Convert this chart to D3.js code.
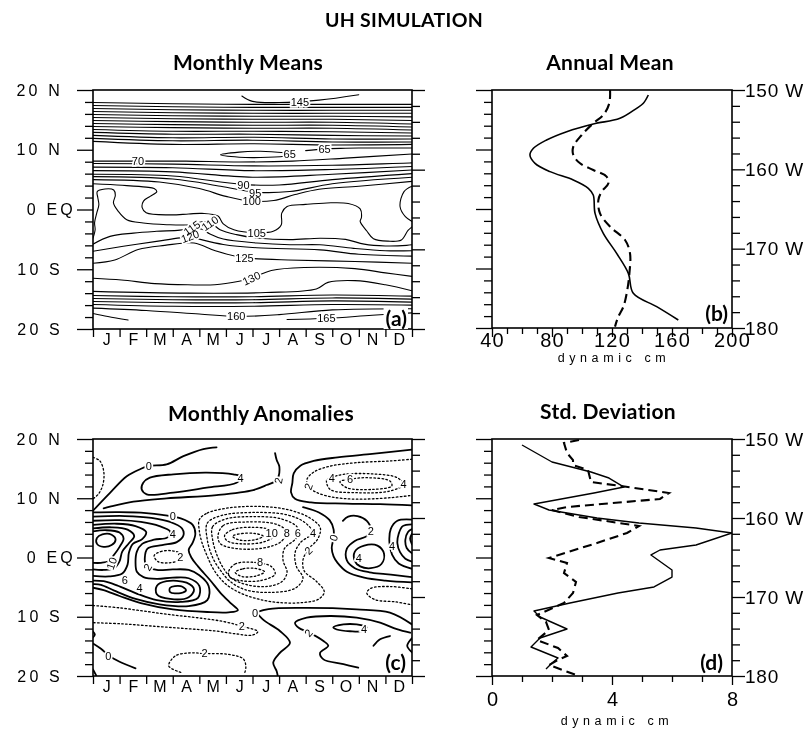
<!DOCTYPE html>
<html>
<head>
<meta charset="utf-8">
<script src="https://cdn.jsdelivr.net/npm/d3@7"></script>
<style>
  body { margin: 0; background: #fff; }
  svg { display: block; filter: grayscale(1); }
  text { font-family: "Liberation Sans", Arial, sans-serif; }
  .ttl { font-family: Lato, "Open Sans", sans-serif; font-weight: 700; }
</style>
</head>
<body>
<div id="chart"></div>
<script>
//////////////////////////////////////////////////
/////////////////// Constants ////////////////////
//////////////////////////////////////////////////

const width = 807
const height = 730

// axis values
const monthNames = ["J","F","M","A","M","J","J","A","S","O","N","D"]
const latMajor = [20, 10, 0, -10, -20]
const latNames = {"20": "20 N", "10": "10 N", "0": "0 EQ", "-10": "10 S", "-20": "20 S"}
const lonMajor = [150, 160, 170, 180]
const lonNames = {"150": "150 W", "160": "160 W", "170": "170 W", "180": "180"}
const annualTicks = [40, 80, 120, 160, 200]
const stdTicks = [0, 4, 8]

// (a) monthly means, contour lines as [month, latitude]
const meanLines = [
  [[5.6,19.0],[6.0,18.1],[7.0,17.9],[8.5,18.3],[10.0,19.2]],
  [[0,17.9],[3,17.7],[6,17.6],[9,17.6],[12,17.6]],
  [[0,17.4],[3,17.2],[6,17.1],[9,17.1],[12,17.1]],
  [[0,16.9],[3,16.7],[6,16.6],[9,16.6],[12,16.6]],
  [[0,16.4],[3,16.2],[6,16.1],[9,16.1],[12,16.1]],
  [[0,15.9],[3,15.7],[6,15.6],[9,15.6],[12,15.5]],
  [[0,15.4],[3,15.2],[6,15.1],[9,15.1],[12,14.9]],
  [[0,14.9],[3,14.7],[6,14.6],[9,14.6],[12,14.3]],
  [[0,14.4],[3,14.2],[6,14.1],[9,14.1],[12,13.8]],
  [[0,13.9],[3,13.7],[6,13.6],[9,13.6],[12,13.3]],
  [[0,13.4],[3,13.1],[6,13.1],[9,13.0],[12,12.8]],
  [[0,12.9],[3,12.6],[6,12.6],[9,12.4],[12,12.3]],
  [[0,12.4],[3,12.0],[6,12.1],[9,11.8],[12,11.8]],
  [[0,11.9],[3,11.5],[6,11.6],[9,11.3],[12,11.3]],
  [[0,11.4],[3,10.9],[6,11.0],[9,10.8],[12,10.9]],
  [[4.8,9.15],[5.5,9.6],[6.3,9.75],[7.2,9.5],[7.6,9.25],[7.2,8.9],[6.3,8.7],[5.5,8.75],[4.8,9.15]],
  [[8.0,9.85],[8.7,10.15],[9.5,10.25],[10.5,10.3],[11.3,10.3],[12,10.3]],
  [[0,8.1],[1.7,8.1],[3.5,8.1],[5.5,7.95],[7.5,8.1],[9.5,8.6],[12,9.3]],
  [[0,7.7],[3,7.6],[6,7.3],[9,7.4],[12,7.8]],
  [[0,7.1],[3,7.0],[6,6.5],[9,6.7],[12,7.2]],
  [[0,6.5],[3,6.3],[6,5.4],[9,5.9],[12,6.6]],
  [[0,5.9],[3,5.6],[5.6,4.2],[7,4.1],[9,5.0],[12,6.0]],
  [[0,5.5],[3,5.1],[4.8,3.9],[6.1,2.9],[7.4,3.0],[9,4.3],[12,5.4]],
  [[0,5.0],[2.5,4.6],[4,3.5],[5,2.2],[5.9,1.4],[6.8,1.5],[7.6,2.5],[8.5,3.4],[10,3.9],[12,4.7]],
  [[0,4.3],[1.1,4.05],[2.0,3.75],[2.3,3.5],[2.4,3.0],[2.15,2.2],[1.9,1.4],[1.85,0.3],[2.0,-0.55],[2.9,-0.9],[3.6,-0.75],[4.1,-0.65],[4.7,-1.1],[4.9,-2.4],[5.3,-3.4],[6.16,-3.9],[6.78,-3.65],[7.08,-2.6],[7.1,-0.6],[7.3,0.5],[8.0,0.85],[8.8,1.1],[9.6,1.0],[10.05,0.1],[10.1,-1.3],[10.05,-2.0],[10.3,-3.6],[10.55,-4.9],[11.1,-5.3],[11.6,-5.1],[11.85,-3.5],[12,-2.9]],
  [[12,3.9],[11.7,3.0],[11.55,0.5],[11.75,-1.2],[12,-2.0]],
  [[0,-4.8],[0.08,-3.4],[0.06,-2.2],[0.14,-0.6],[0.22,0.8],[0.18,2.0],[0.16,3.0],[0.45,3.43],[0.78,3.26],[0.84,2.4],[0.77,1.1],[0.95,-0.3],[1.27,-1.7],[1.89,-2.26],[2.77,-2.54],[3.65,-2.54],[4.15,-2.0],[4.45,-2.3],[4.78,-3.38],[5.4,-4.21],[6.16,-4.77],[7.41,-5.05],[8.54,-4.8],[9.5,-5.0],[10.2,-5.8],[11.0,-6.1],[11.8,-6.0],[12,-5.9]],
  [[0,-5.8],[0.64,-4.5],[1.52,-3.95],[2.39,-3.65],[3.27,-3.45],[3.75,-3.1],[4.1,-3.3],[4.4,-4.1],[4.9,-4.95],[6.16,-5.6],[7.41,-5.9],[8.54,-5.9],[9.8,-6.5],[11,-6.9],[12,-6.9]],
  [[0,-7.0],[1.14,-6.16],[2.39,-5.33],[3.27,-4.75],[3.65,-4.55],[4.03,-5.0],[4.9,-5.85],[6.16,-6.4],[8.54,-6.75],[10,-7.5],[12,-7.8]],
  [[0,-9.0],[0.82,-8.45],[1.7,-6.7],[2.7,-6.0],[3.8,-5.6],[4.6,-6.9],[5.45,-7.9],[6.0,-8.2],[7.34,-8.45],[9.85,-8.7],[12,-9.0]],
  [[0,-11.5],[1.07,-11.8],[2.32,-12.4],[3.57,-12.6],[4.58,-12.6],[5.5,-12.0],[5.96,-11.5],[6.71,-10.2],[7.96,-9.7],[9.85,-9.9],[11,-10.6],[12,-11.2]],
  [[0,-13.7],[3.57,-14.0],[6.5,-13.9],[8.4,-13.3],[8.84,-12.2],[9.85,-11.9],[11,-12.6],[12,-13.6]],
  [[0,-14.4],[3,-14.6],[6,-14.6],[9,-14.3],[12,-14.5]],
  [[0,-14.9],[3,-15.1],[6,-15.1],[9,-14.8],[12,-15.0]],
  [[0,-15.4],[3,-15.6],[6,-15.6],[9,-15.3],[12,-15.5]],
  [[0,-15.9],[3,-16.2],[6,-16.2],[9,-15.9],[12,-16.0]],
  [[0,-16.5],[2,-16.9],[4,-17.5],[5.4,-17.9],[7,-17.6],[9,-16.8],[12,-16.6]],
  [[7.3,-18.4],[8.8,-18.2],[10.5,-17.7],[12,-17.3]],
  [[0,-17.4],[0.56,-17.9],[1.32,-18.5]]
]
const meanLabels = [
  ["145", 7.78, 18.05, 0], ["65", 7.4, 9.29, 0], ["65", 8.71, 10.18, 0], ["70", 1.69, 8.1, 0],
  ["90", 5.66, 4.16, 0], ["95", 6.1, 2.8, 0], ["100", 5.97, 1.4, 0], ["105", 6.16, -3.93, 0],
  ["110", 4.4, -2.3, -35], ["115", 3.72, -3.1, -35], ["120", 3.65, -4.5, -20],
  ["125", 5.7, -8.17, 0], ["130", 5.96, -11.5, -25], ["160", 5.39, -17.9, 0], ["165", 8.78, -18.2, 0]
]

// (c) monthly anomalies, positive and zero contours (solid)
const anomSolid = [
  [[0,7.9],[0.64,10.9],[1.27,13.7],[1.77,14.9],[2.1,15.45],[2.77,15.7],[3.4,17.1],[4.15,18.3],[4.65,18.6]],
  [[1.89,12.63],[2.14,13.47],[3.02,14.04],[4.28,14.32],[5.28,14.04],[5.59,13.6],[5.4,12.63],[4.28,11.8],[3.02,10.94],[2.02,10.66],[1.83,11.5],[1.89,12.63]],
  [[0.4,8.3],[0.64,8.58],[1.52,9.42],[2.77,9.98],[4.65,10.54],[6.03,11.39],[6.53,12.23],[6.91,13.08],[7.01,15.33],[6.91,16.45],[6.85,17.6]],
  [[12,18.2],[10.5,17.5],[9.2,16.9],[8.3,16.3],[7.8,15.5],[7.55,14.2],[7.5,12.6],[7.45,11.0],[7.6,9.9],[8.2,9.3],[9.5,9.1],[10.8,9.0],[12,8.8]],
  [[0,7.6],[1.0,7.65],[2.0,7.5],[2.6,7.2],[3.3,6.6],[3.75,5.5],[3.85,4.0],[3.75,2.5],[3.6,1.3],[3.7,0.0],[3.95,-1.5],[4.4,-3.8],[4.8,-6.0],[5.2,-7.8],[5.45,-8.9],[5.1,-9.25],[4.3,-9.2],[3.0,-8.75],[1.8,-7.7],[1.0,-6.5],[0.4,-5.5],[0,-5.1]],
  [[0,6.9],[1.2,7.0],[2.2,6.7],[2.9,6.0],[3.35,4.9],[3.4,3.7],[3.15,2.6],[2.6,2.1],[2.05,1.5],[1.95,0.0],[2.0,-1.4],[2.4,-2.1],[3.0,-2.0],[3.6,-2.1],[4.0,-3.0],[4.35,-4.8],[4.3,-7.2],[3.6,-8.2],[2.5,-7.9],[1.6,-7.0],[0.8,-5.6],[0.3,-4.6],[0,-4.5]],
  [[0,6.2],[1.0,6.3],[1.8,6.0],[2.5,5.3],[2.9,4.4],[2.8,3.4],[2.3,3.0],[1.85,2.3],[1.65,1.0],[1.6,-0.8],[1.65,-2.4],[1.9,-3.3],[2.4,-3.6],[3.0,-3.4],[3.6,-3.5],[4.0,-4.8],[3.95,-6.8],[3.3,-7.5],[2.4,-7.2],[1.6,-6.0],[0.9,-4.7],[0.4,-4.0],[0,-3.9]],
  [[0,5.5],[0.9,5.7],[1.6,5.3],[2.0,4.3],[1.85,3.1],[1.5,2.3],[1.35,0.8],[1.3,-1.2],[1.1,-2.7],[0.6,-3.2],[0,-3.1]],
  [[0,4.9],[0.7,5.1],[1.3,4.7],[1.55,3.6],[1.35,2.4],[1.1,1.0],[1.0,-0.6],[0.8,-1.8],[0.4,-2.1],[0,-2.0]],
  [[0,4.4],[0.5,4.6],[1.0,4.2],[1.15,3.2],[1.0,1.8],[0.8,0.5],[0.6,-0.6],[0.3,-0.9],[0,-0.9]],
  [[0.15,3.3],[0.35,3.9],[0.7,3.85],[0.85,3.0],[0.7,2.1],[0.4,1.8],[0.15,2.3],[0.15,3.3]],
  [[2.4,-4.8],[2.77,-4.0],[3.52,-4.25],[3.8,-5.4],[3.6,-6.7],[2.9,-7.0],[2.4,-6.2],[2.4,-4.8]],
  [[2.9,-5.1],[3.3,-4.85],[3.5,-5.5],[3.3,-6.0],[2.9,-5.85],[2.9,-5.1]],
  [[7.9,8.5],[8.5,7.6],[8.9,6.3],[9.05,4.75],[9.05,3.35],[8.98,1.6],[9.05,0.2],[9.2,-0.9],[9.55,-2.4],[10.2,-3.4],[11.0,-3.9],[12,-4.2]],
  [[9.4,6.2],[9.6,6.9],[9.95,7.0],[10.3,6.2],[10.45,4.7],[10.3,3.6],[9.85,2.8],[9.55,1.5],[9.55,-0.5],[9.85,-1.8],[10.4,-2.5],[11.0,-2.8],[11.6,-3.1],[12,-3.3]],
  [[9.85,1.0],[10.2,2.0],[10.7,2.0],[10.95,0.6],[10.85,-1.1],[10.45,-1.8],[10.05,-1.5],[9.85,-0.6],[9.85,1.0]],
  [[12,6.4],[11.45,6.2],[11.2,4.8],[11.15,2.6],[11.25,0.5],[11.5,-1.0],[12,-1.9]],
  [[12,5.6],[11.65,5.3],[11.5,4.0],[11.45,2.4],[11.55,0.9],[11.75,-0.2],[12,-0.7]],
  [[12,4.8],[11.85,4.3],[11.75,3.0],[11.8,1.6],[12,0.7]],
  [[12,4.0],[11.93,3.2],[12,2.2]],
  [[12,-11.3],[11.17,-9.3],[9.92,-8.75],[8.04,-8.5],[6.6,-8.7],[6.2,-9.3],[6.4,-10.5],[7.03,-12.4],[7.41,-14.4],[7.03,-16.1],[6.78,-17.75],[6.91,-19.2],[6.95,-20]],
  [[11.93,-12.7],[11.43,-12.1],[10.8,-11.0],[9.92,-10.15],[8.92,-9.87],[8.04,-10.15],[7.6,-11.0],[7.75,-11.9],[8.1,-12.6],[8.67,-14.1],[8.85,-14.9],[8.54,-16.1],[8.67,-17.2],[9.42,-18.0],[9.98,-18.6]],
  [[9.04,-11.8],[9.42,-11.3],[9.92,-11.3],[10.3,-11.8],[10.17,-12.4],[9.67,-12.45],[9.17,-12.15],[9.04,-11.8]],
  [[10.55,-14.9],[10.8,-13.8],[11.17,-13.25]],
  [[12,-13.6],[11.82,-14.9],[12,-16.0]],
  [[0,-14.5],[0.3,-15.4],[0.6,-16.6],[1.0,-17.6],[1.6,-18.7]],
  [[0,-12.5],[0.07,-13.0],[0,-13.5]],
  [[0,-18.9],[0.12,-19.9]]
]
// (c) negative contours (dotted)
const anomDotted = [
  [[0,16.9],[0.26,16.3],[0.41,14.3],[0.36,12.1],[0.2,10.7],[0,9.9]],
  [[12,16.6],[11.2,16.3],[9.9,16.0],[8.9,15.4],[8.3,14.4],[8.05,13.2],[8.1,12.0],[8.4,11.0],[9.0,10.2],[9.9,9.85],[11.2,10.1],[12,10.5]],
  [[8.79,13.1],[8.98,13.5],[9.42,14.04],[10.55,14.1],[11.43,13.5],[11.68,12.35],[11.17,11.22],[9.92,10.94],[8.92,11.5],[8.79,13.1]],
  [[9.29,12.8],[9.67,13.2],[10.3,13.47],[11.17,12.9],[11.24,12.07],[10.55,11.5],[9.54,11.78],[9.29,12.8]],
  [[4.0,6.4],[4.3,7.5],[5.15,8.4],[6.4,8.6],[7.4,8.0],[8.15,6.7],[8.55,5.0],[8.45,3.1],[8.1,1.4],[7.9,-0.4],[7.95,-2.3],[8.4,-4.0],[8.7,-5.8],[8.5,-7.0],[7.9,-7.6],[7.0,-7.6],[6.2,-7.0],[5.5,-5.9],[4.95,-4.3],[4.55,-2.1],[4.3,0.2],[4.1,2.5],[4.0,4.5],[4.0,6.4]],
  [[4.3,3.0],[4.3,5.8],[4.85,7.1],[6.0,7.6],[7.3,7.2],[8.0,5.8],[8.25,4.2],[7.8,2.5],[7.6,0.8],[7.65,-1.5],[7.9,-3.5],[7.6,-5.2],[6.6,-5.9],[5.7,-5.4],[5.15,-4.0],[4.8,-2.2],[4.5,0.0],[4.3,3.0]],
  [[4.5,3.0],[4.5,5.2],[5.0,6.5],[6.0,6.9],[7.1,6.5],[7.7,5.0],[7.65,3.3],[7.2,1.5],[7.15,-0.5],[7.3,-2.5],[7.1,-4.1],[6.5,-4.9],[5.8,-4.6],[5.25,-3.6],[4.95,-2.1],[4.7,0.0],[4.5,3.0]],
  [[4.7,3.6],[4.9,5.4],[5.8,6.0],[6.9,5.6],[7.3,4.3],[7.05,2.6],[6.4,1.6],[5.4,1.5],[4.8,2.3],[4.7,3.6]],
  [[5.1,-2.4],[5.35,-1.1],[6.0,-0.8],[6.7,-1.5],[6.85,-2.8],[6.3,-3.9],[5.55,-3.9],[5.15,-3.3],[5.1,-2.4]],
  [[4.95,3.7],[5.25,4.7],[6.0,5.1],[6.7,4.6],[6.8,3.6],[6.4,2.6],[5.6,2.3],[5.05,2.8],[4.95,3.7]],
  [[5.25,3.6],[5.6,4.05],[6.1,4.05],[6.4,3.6],[6.1,3.0],[5.5,2.95],[5.25,3.6]],
  [[5.35,-2.5],[5.65,-1.9],[6.1,-1.85],[6.45,-2.4],[6.15,-3.1],[5.6,-3.2],[5.35,-2.5]],
  [[2.3,0.3],[2.55,1.0],[2.95,1.15],[3.3,0.6],[3.25,-0.4],[2.85,-0.9],[2.45,-0.7],[2.3,0.3]],
  [[0,-8.1],[1.0,-8.5],[2.0,-9.1],[3.0,-9.7],[4.0,-10.2],[4.9,-10.8],[5.6,-11.6],[6.2,-12.5],[6.0,-13.1],[5.4,-12.9],[4.6,-12.4],[3.5,-12.0],[2.3,-11.6],[1.1,-11.2],[0,-11.0]],
  [[3.3,-19.4],[2.85,-18.3],[3.1,-16.6],[3.65,-16.1],[4.2,-16.2],[5.1,-16.35],[5.65,-17.1],[5.75,-18.4],[5.7,-19.6]],
  [[12,-5.3],[11.2,-4.9],[10.45,-5.2],[10.3,-6.0],[10.6,-7.1],[11.4,-7.5],[12,-8.0]]
]
const anomLabels = [
  ["0", 2.1, 15.45, 0], ["4", 5.55, 13.5, 0], ["2", 6.97, 13.0, -80], ["2", 8.1, 12.0, -70],
  ["4", 8.98, 13.4, 0], ["6", 9.67, 13.2, 0], ["4", 11.68, 12.4, 0], ["0", 3.0, 7.05, 0],
  ["4", 3.0, 3.9, 0], ["10", 0.7, -1.0, -70], ["6", 1.2, -3.75, 0], ["2", 2.05, -1.6, -60],
  ["4", 1.75, -5.2, 0], ["2", 3.28, 0.1, 0], ["10", 6.72, 4.2, 0], ["8", 7.29, 4.2, 0],
  ["6", 7.7, 4.2, 0], ["4", 8.28, 4.2, 0], ["2", 8.1, 1.2, -45], ["0", 9.05, 3.35, -70],
  ["2", 10.45, 4.5, 0], ["4", 11.25, 1.9, 0], ["4", 10.0, 0.0, 0], ["8", 6.28, -0.7, 0],
  ["0", 6.1, -9.45, 0], ["2", 5.6, -11.6, 0], ["2", 8.1, -12.7, -50], ["4", 10.2, -12.0, 0],
  ["0", 0.58, -16.6, 0], ["2", 4.2, -16.2, 0]
]

// (b) annual mean, [longitude, dynamic cm]
const annualSolid = [
  [150.63,144.2],[151.68,140.9],[152.31,136.4],[153.57,125.3],[154.28,107.5],[155.25,89.8],
  [156.3,76.4],[157.35,67.6],[158.19,65.3],[159.24,68.7],[160.29,78.7],[161.34,94.2],
  [162.39,104.2],[163.24,107.5],[165.55,108.7],[168.07,114.2],[170.59,123.1],[173.11,130.9],
  [175.63,134.2],[177.31,149.8],[178.99,164.2]
]
const annualDashed = [
  [150.0,118.7],[151.68,118.2],[153.15,114.2],[154.2,107.5],[155.67,99.8],[157.14,94.2],
  [158.19,94.2],[159.24,98.7],[160.08,107.5],[160.92,116.4],[161.76,117.6],[162.81,113.1],
  [163.87,110.9],[165.55,112.0],[167.23,118.7],[168.91,128.7],[170.59,132.0],[173.11,131.6],
  [175.63,129.8],[177.31,127.6],[178.57,124.2],[179.83,122.0]
]

// (d) standard deviation, [longitude, dynamic cm]
const stdSolid = [
  [150.76,1.0],[152.91,2.0],[154.18,3.3],[154.94,3.9],[156.08,4.4],[156.84,3.4],[158.23,1.4],
  [158.99,1.9],[160.0,3.5],[160.63,4.9],[161.27,6.8],[161.9,8.0],[163.42,6.8],[164.05,5.6],
  [164.68,5.3],[166.58,6.0],[167.47,6.0],[168.73,5.4],[169.49,4.2],[170.76,2.6],[171.77,1.4],
  [172.53,1.6],[174.05,2.5],[175.19,1.6],[176.33,1.3],[177.72,2.2],[178.35,2.0],[179.11,1.8]
]
const stdDashed = [
  [150.13,2.9],[150.51,2.4],[151.77,2.5],[152.66,2.7],[153.29,2.7],[153.92,3.2],[155.44,3.3],
  [155.95,4.3],[156.84,5.9],[157.59,5.6],[158.61,2.5],[158.99,2.0],[159.87,2.9],[160.38,3.8],
  [161.01,4.9],[161.9,4.5],[163.16,3.5],[165.06,1.9],[165.7,2.5],[166.96,2.4],[168.1,2.8],
  [169.49,2.7],[170.76,2.4],[172.28,1.5],[173.16,1.8],[174.18,1.9],[175.44,1.5],[176.46,2.2],
  [177.47,2.5],[177.97,2.2],[178.61,1.9],[179.87,2.8]
]

// panel boxes
const boxA = {left: 93, right: 412, top: 90, bottom: 329}
const boxB = {left: 492, right: 732, top: 90, bottom: 328}
const boxC = {left: 93, right: 412, top: 439, bottom: 676}
const boxD = {left: 492, right: 732, top: 439, bottom: 676}

/// SVG ///
const svg = d3.select("#chart").append("svg")
  .attr("width", width)
  .attr("height", height)
svg.append("rect").attr("width", width).attr("height", height).attr("fill", "#fff")

const defs = svg.append("defs")

// frame: box, latitude ticks on the left, longitude ticks on the right
function frame(box, id, showLat, showLon) {
  const g = svg.append("g")
  const lat = d3.scaleLinear([-20, 20], [box.bottom, box.top])
  const lon = d3.scaleLinear([150, 180], [box.top, box.bottom])

  defs.append("clipPath").attr("id", id)
    .append("rect")
      .attr("x", box.left).attr("y", box.top)
      .attr("width", box.right - box.left).attr("height", box.bottom - box.top)

  g.append("g").attr("transform", `translate(${box.left},0)`)
    .call(d3.axisLeft(lat).tickValues(d3.range(-18, 19, 2).filter(v => v % 10 !== 0)).tickSize(8).tickFormat(""))
  const leftMajor = g.append("g").attr("transform", `translate(${box.left},0)`)
    .call(d3.axisLeft(lat).tickValues(latMajor).tickSize(16).tickPadding(2)
      .tickFormat(d => showLat ? latNames[d] : ""))
  leftMajor.selectAll("text")
    .attr("x", d => d === 0 ? -17 : -30)
    .attr("font-size", 16).attr("letter-spacing", 3.2)
    .attr("font-family", "Liberation Sans, Arial, sans-serif")

  g.append("g").attr("transform", `translate(${box.right},0)`)
    .call(d3.axisRight(lon).tickValues(d3.range(152, 180, 2).filter(v => v % 10 !== 0)).tickSize(8).tickFormat(""))
  const rightMajor = g.append("g").attr("transform", `translate(${box.right},0)`)
    .call(d3.axisRight(lon).tickValues(lonMajor).tickSize(13).tickPadding(0)
      .tickFormat(d => showLon ? lonNames[d] : ""))
  rightMajor.selectAll("text")
    .attr("font-size", 19).attr("letter-spacing", 0.8)
    .attr("font-family", "Liberation Sans, Arial, sans-serif")

  g.selectAll(".domain").remove()
  g.selectAll(".tick line").attr("stroke", "#000").attr("stroke-width", 1.3)
  g.selectAll(".tick text").attr("fill", "#000")

  g.append("rect")
    .attr("x", box.left).attr("y", box.top)
    .attr("width", box.right - box.left).attr("height", box.bottom - box.top)
    .attr("fill", "none").attr("stroke", "#000").attr("stroke-width", 1.6)
  return g
}

function monthAxis(box) {
  const x = d3.scaleLinear([0, 12], [box.left, box.right])
  const g = svg.append("g").attr("transform", `translate(0,${box.bottom})`)
  g.append("g")
    .call(d3.axisBottom(x).tickValues(d3.range(0, 13)).tickSize(8).tickFormat(""))
  g.append("g")
    .call(d3.axisBottom(x).tickValues(d3.range(12).map(i => i + 0.5)).tickSize(0).tickPadding(4.5)
      .tickFormat(d => monthNames[Math.floor(d)]))
  g.selectAll(".domain").remove()
  g.selectAll(".tick line").attr("stroke", "#000").attr("stroke-width", 1.3)
  g.selectAll(".tick text").attr("fill", "#000").attr("font-size", 16)
    .attr("font-family", "Liberation Sans, Arial, sans-serif")
  return x
}

function isClosed(p) {
  const a = p[0], b = p[p.length - 1]
  return a[0] === b[0] && a[1] === b[1]
}

function drawContours(g, x, y, lines, style) {
  lines.forEach(p => {
    const closed = isClosed(p)
    const line = d3.line(d => x(d[0]), d => y(d[1]))
      .curve(closed ? d3.curveCatmullRomClosed.alpha(0.5) : d3.curveCatmullRom.alpha(0.5))
    g.append("path")
      .attr("d", line(closed ? p.slice(0, -1) : p))
      .attr("fill", "none")
      .attr("stroke", "#000")
      .attr("stroke-width", style.width)
      .attr("stroke-dasharray", style.dash || null)
      .attr("stroke-linejoin", "round")
      .attr("stroke-linecap", "round")
  })
}

// contour labels: a white copy underneath breaks the line, black text on top
function drawLabels(g, x, y, labels) {
  const place = d => `translate(${x(d[1])},${y(d[2])}) rotate(${d[3]})`
  g.selectAll(null)
    .data(labels)
    .join("text")
      .attr("transform", place)
      .attr("text-anchor", "middle")
      .attr("dominant-baseline", "central")
      .attr("font-size", 11)
      .attr("fill", "#fff").attr("stroke", "#fff").attr("stroke-width", 3.5)
      .text(d => d[0])
  g.selectAll(null)
    .data(labels)
    .join("text")
      .attr("transform", place)
      .attr("text-anchor", "middle")
      .attr("dominant-baseline", "central")
      .attr("font-size", 11)
      .attr("fill", "#000")
      .text(d => d[0])
}

function panelLetter(txt, xr, yb) {
  const t = svg.append("text")
    .attr("class", "ttl")
    .attr("x", xr).attr("y", yb)
    .attr("text-anchor", "end")
    .attr("font-size", 21)
    .text(txt)
  const bb = t.node().getBBox()
  svg.insert("rect", () => t.node())
    .attr("x", bb.x - 2).attr("y", bb.y + 2)
    .attr("width", bb.width + 3).attr("height", bb.height - 3)
    .attr("fill", "#fff")
}

function title(txt, cx, yb, size) {
  svg.append("text").attr("class", "ttl")
    .attr("x", cx).attr("y", yb).attr("text-anchor", "middle")
    .attr("font-size", size).attr("letter-spacing", 0.3).text(txt)
}

title("UH SIMULATION", 404, 27, 19.5)

///////////////////////////////////////////////////////////
/////////////////// (a) Monthly Means /////////////////////
///////////////////////////////////////////////////////////
title("Monthly Means", 248, 70, 21)
{
  const latA = d3.scaleLinear([-20, 20], [boxA.bottom, boxA.top])
  const xA = monthAxis(boxA)
  const g = svg.append("g").attr("clip-path", "url(#clipA)")
  frame(boxA, "clipA", true, false)
  drawContours(g, xA, latA, meanLines, {width: 1.1})
  drawLabels(g, xA, latA, meanLabels)
  panelLetter("(a)", 407, 326)
}

///////////////////////////////////////////////////////////
/////////////////// (b) Annual Mean ///////////////////////
///////////////////////////////////////////////////////////
title("Annual Mean", 610, 70, 21)
{
  const x = d3.scaleLinear([40, 200], [boxB.left, boxB.right])
  const lon = d3.scaleLinear([150, 180], [boxB.top, boxB.bottom])
  frame(boxB, "clipB", false, true)
  const ax = svg.append("g").attr("transform", `translate(0,${boxB.bottom})`)
  ax.append("g").call(d3.axisBottom(x).tickValues(d3.range(50, 200, 10).filter(v => v % 40 !== 0)).tickSize(6).tickFormat(""))
  ax.append("g").call(d3.axisBottom(x).tickValues(annualTicks).tickSize(9).tickPadding(-4.5).tickFormat(d3.format("d")))
  ax.selectAll(".domain").remove()
  ax.selectAll(".tick line").attr("stroke", "#000").attr("stroke-width", 1.3)
  ax.selectAll(".tick text").attr("fill", "#000").attr("font-size", 20).attr("letter-spacing", 1.2)
    .attr("font-family", "Liberation Sans, Arial, sans-serif")
  svg.append("text").attr("x", 614).attr("y", 362).attr("text-anchor", "middle")
    .attr("font-family", "DejaVu Sans Mono, monospace").attr("font-size", 12.5)
    .attr("letter-spacing", 4.6).text("dynamic cm")

  const g = svg.append("g").attr("clip-path", "url(#clipB)")
  const line = d3.line(d => x(d[1]), d => lon(d[0])).curve(d3.curveCatmullRom.alpha(0.5))
  g.append("path").datum(annualSolid).attr("d", line)
    .attr("fill", "none").attr("stroke", "#000").attr("stroke-width", 1.6)
  g.append("path").datum(annualDashed).attr("d", line)
    .attr("fill", "none").attr("stroke", "#000").attr("stroke-width", 2.1).attr("stroke-dasharray", "9,5")
  panelLetter("(b)", 728, 321)
}

///////////////////////////////////////////////////////////
/////////////////// (c) Monthly Anomalies /////////////////
///////////////////////////////////////////////////////////
title("Monthly Anomalies", 261, 421, 21)
{
  const latC = d3.scaleLinear([-20, 20], [boxC.bottom, boxC.top])
  const xC = monthAxis(boxC)
  const g = svg.append("g").attr("clip-path", "url(#clipC)")
  frame(boxC, "clipC", true, false)
  drawContours(g, xC, latC, anomSolid, {width: 1.8})
  drawContours(g, xC, latC, anomDotted, {width: 1.3, dash: "1.6,2.4"})
  drawLabels(g, xC, latC, anomLabels)
  panelLetter("(c)", 406, 670)
}

///////////////////////////////////////////////////////////
/////////////////// (d) Std. Deviation ////////////////////
///////////////////////////////////////////////////////////
title("Std. Deviation", 608, 419, 21)
{
  const x = d3.scaleLinear([0, 8], [boxD.left, boxD.right])
  const lon = d3.scaleLinear([150, 180], [boxD.top, boxD.bottom])
  frame(boxD, "clipD", false, true)
  const ax = svg.append("g").attr("transform", `translate(0,${boxD.bottom})`)
  ax.append("g").call(d3.axisBottom(x).tickValues(d3.range(1, 8).filter(v => v % 4 !== 0)).tickSize(6).tickFormat(""))
  ax.append("g").call(d3.axisBottom(x).tickValues(stdTicks).tickSize(9).tickPadding(7).tickFormat(d3.format("d")))
  ax.selectAll(".domain").remove()
  ax.selectAll(".tick line").attr("stroke", "#000").attr("stroke-width", 1.3)
  ax.selectAll(".tick text").attr("fill", "#000").attr("font-size", 20)
    .attr("font-family", "Liberation Sans, Arial, sans-serif")
  svg.append("text").attr("x", 617).attr("y", 725).attr("text-anchor", "middle")
    .attr("font-family", "DejaVu Sans Mono, monospace").attr("font-size", 12.5)
    .attr("letter-spacing", 4.6).text("dynamic cm")

  const g = svg.append("g").attr("clip-path", "url(#clipD)")
  const line = d3.line(d => x(d[1]), d => lon(d[0]))
  g.append("path").datum(stdSolid).attr("d", line)
    .attr("fill", "none").attr("stroke", "#000").attr("stroke-width", 1.4).attr("stroke-linejoin", "round")
  g.append("path").datum(stdDashed).attr("d", line)
    .attr("fill", "none").attr("stroke", "#000").attr("stroke-width", 2.1).attr("stroke-dasharray", "9,5")
  panelLetter("(d)", 723, 670)
}
</script>
</body>
</html>
